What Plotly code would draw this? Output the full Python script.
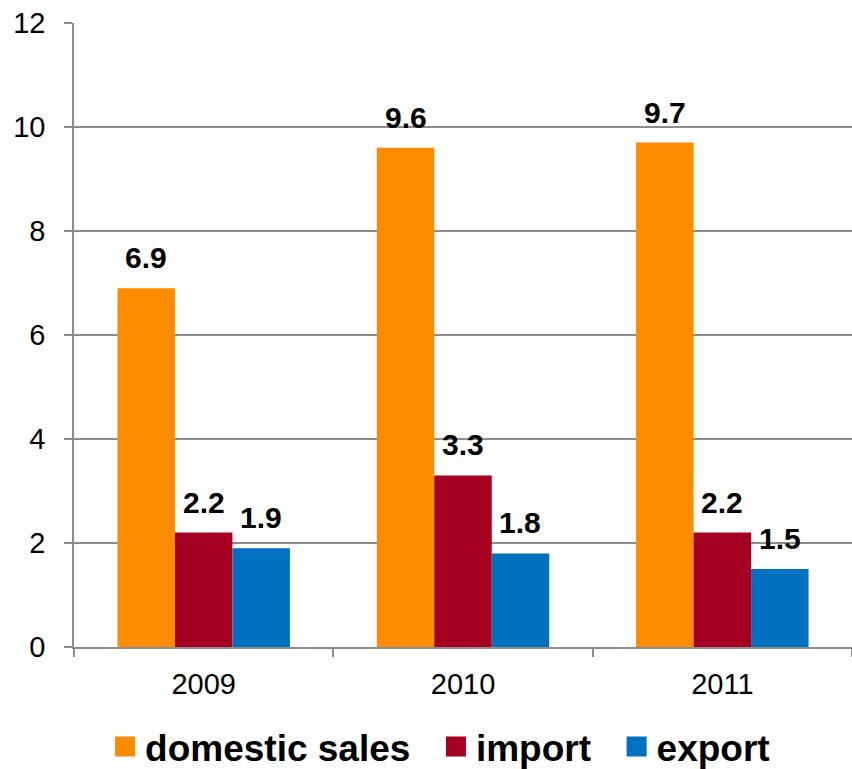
import plotly.graph_objects as go

# Chart data
years = ["2009", "2010", "2011"]
domestic_sales = [6.9, 9.6, 9.7]
imports = [2.2, 3.3, 2.2]
exports = [1.9, 1.8, 1.5]

series_names = ["domestic sales", "import", "export"]
series_values = [domestic_sales, imports, exports]
series_colors = ["#FF8B00", "#A50021", "#0070C0"]

y_ticks = [0, 2, 4, 6, 8, 10, 12]

FONT = "Arial, Liberation Sans, sans-serif"
GRID = "#8C8C8C"
BARGAP = 0.335
PAD = "\u00a0\u00a0"  # extra room between legend entries

fig = go.Figure()

for name, vals, color in zip(series_names, series_values, series_colors):
    fig.add_trace(go.Bar(
        x=years, y=vals, name=name, marker_color=color,
        marker_line_width=0, showlegend=False,
    ))
    # legend swatch with a larger square than the default bar icon
    fig.add_trace(go.Scatter(
        x=[None], y=[None], mode="markers", name=name + PAD,
        marker=dict(symbol="square", size=16, color=color,
                    line=dict(color=color, width=4)),
    ))

# value labels above each bar
n = len(series_values)
bar_w = (1 - BARGAP) / n
annotations = []
for s, vals in enumerate(series_values):
    offset = (s - (n - 1) / 2) * bar_w
    for i, v in enumerate(vals):
        annotations.append(dict(
            x=i + offset, y=v, xref="x", yref="y", text=f"<b>{v:.1f}</b>",
            showarrow=False, yanchor="bottom", yshift=12,
            font=dict(family=FONT, size=30, color="#000000"),
        ))

fig.update_layout(
    width=852, height=769,
    margin=dict(l=74, r=0, t=23, b=122, autoexpand=False),
    paper_bgcolor="white", plot_bgcolor="white",
    barmode="group", bargap=BARGAP, bargroupgap=0,
    font=dict(family=FONT, color="#000000"),
    annotations=annotations,
    legend=dict(
        orientation="h", x=0.484, xanchor="center", y=-0.16, yanchor="middle",
        font=dict(family=FONT, size=37, color="#000000", weight="bold"),
        itemsizing="trace", tracegroupgap=0,
    ),
    xaxis=dict(
        type="category", tickson="boundaries", ticks="outside", ticklen=8,
        tickcolor=GRID, tickwidth=1.5, showline=True, linecolor=GRID, linewidth=1.5,
        showgrid=False, tickfont=dict(family=FONT, size=29, color="#000000"),
        ticklabelstandoff=10,
    ),
    yaxis=dict(
        range=[0, 12], tickvals=y_ticks, ticks="outside", ticklen=8,
        tickcolor=GRID, tickwidth=1.5, showline=True, linecolor=GRID, linewidth=1.5,
        showgrid=True, gridcolor=GRID, gridwidth=1.5, zeroline=False,
        tickfont=dict(family=FONT, size=29, color="#000000"),
        ticklabelstandoff=13,
    ),
)

fig.write_html("out.html")
